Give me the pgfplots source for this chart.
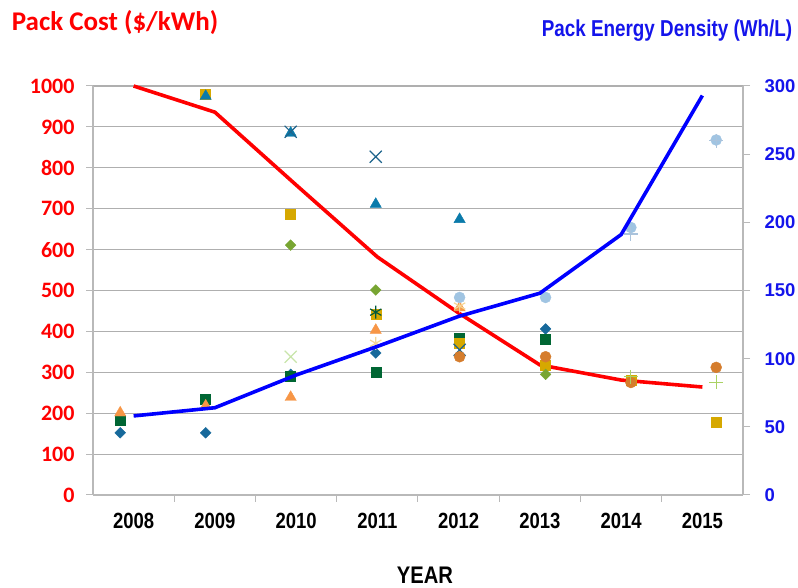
\documentclass[border=0pt]{standalone}
\usepackage{pgfplots}
\pgfplotsset{compat=1.18}
\usepackage{fontspec}
\setmainfont{Carlito}
\newfontfamily\calibri{Carlito}
\newfontfamily\lsans{Liberation Sans}
\newfontfamily\narrow{Liberation Sans}[FakeStretch=0.84]
\newfontfamily\medn{Liberation Sans}[FakeStretch=0.82]

\definecolor{cdiam}{RGB}{23,105,155}
\definecolor{cdgsq}{RGB}{0,102,51}
\definecolor{corat}{RGB}{247,150,70}
\definecolor{cgold}{RGB}{214,168,0}
\definecolor{ctealt}{RGB}{10,122,170}
\definecolor{ctealx}{RGB}{30,100,140}
\definecolor{cgdiam}{RGB}{120,165,50}
\definecolor{clgx}{RGB}{200,228,170}
\definecolor{cdgast}{RGB}{0,90,60}
\definecolor{clyast}{RGB}{245,215,150}
\definecolor{clbc}{RGB}{160,196,226}
\definecolor{corc}{RGB}{213,125,45}
\definecolor{clbp}{RGB}{170,195,220}
\definecolor{cygp}{RGB}{170,210,100}
\definecolor{axgray}{RGB}{185,185,185}
\definecolor{gridgray}{RGB}{175,175,175}
\definecolor{cred}{RGB}{255,0,0}
\definecolor{cblue}{RGB}{0,0,255}
\definecolor{tblue}{RGB}{20,20,235}

\begin{document}
\begin{tikzpicture}
\path[use as bounding box] (0,0) rectangle (798pt,588pt);

\begin{axis}[
  at={(93pt,93pt)}, anchor=south west,
  scale only axis, width=650pt, height=409pt,
  xmin=2007.5, xmax=2015.5, ymin=0, ymax=1000,
  axis x line*=bottom, axis y line*=left,
  axis line style={axgray, line width=1.3pt},
  ytick={0,100,...,1000},
  ymajorgrids, grid style={gridgray, line width=1.1pt},
  tick align=outside,
  major tick length=7pt,
  ytick style={axgray, line width=1pt},
  xtick={2008,2009,...,2015},
  xtick style={draw=none},
  extra x ticks={2008.5,2009.5,...,2014.5},
  extra x tick labels={},
  extra x tick style={xtick style={draw=axgray, line width=1pt}, major grid style={draw=none}},
  /pgf/number format/assume math mode=true,
  /pgf/number format/1000 sep={},
  yticklabel style={font=\calibri\bfseries\fontsize{22}{22}\selectfont, text=cred, xshift=-8pt},
  xticklabel style={font=\narrow\bfseries\fontsize{22}{22}\selectfont, text=black, yshift=-8pt},
  clip=false,
]
% Pack cost (left axis)
\addplot[cred, line width=3.6pt] coordinates {
  (2008,1000) (2009,936) (2010,758) (2011,582) (2012,445) (2013,318) (2014,281) (2015,264)};

% scatter series (x positions slightly offset, as in the reference)
\addplot[only marks, mark=square*, mark size=3.8pt, mark options={rotate=45, fill=cdiam, draw=cdiam}] coordinates {
  (2007.835,152) (2008.887,152) (2009.933,295) (2010.98,347) (2012.012,367) (2013.07,406)};
\addplot[only marks, mark=square*, mark size=5pt, mark options={fill=cdgsq, draw=cdgsq}] coordinates {
  (2007.835,182) (2008.887,235) (2009.933,290) (2010.98,300) (2012.012,383) (2013.07,381)};
\addplot[only marks, mark=triangle*, mark size=6.5pt, mark options={fill=corat, draw=corat}] coordinates {
  (2007.835,201) (2008.887,218) (2009.933,239) (2010.98,403) (2012.012,458)};
\addplot[only marks, mark=square*, mark size=5pt, mark options={fill=cgold, draw=cgold}] coordinates {
  (2008.887,980) (2009.933,687) (2010.98,442) (2012.012,372) (2013.07,318) (2014.12,281) (2015.17,179)};
\addplot[only marks, mark=triangle*, mark size=6.5pt, mark options={fill=ctealt, draw=ctealt}] coordinates {
  (2008.887,975) (2009.933,885) (2010.98,711) (2012.012,674)};
\addplot[only marks, mark=x, mark size=8.5pt, mark options={draw=ctealx, line width=1.2pt}] coordinates {
  (2009.933,888) (2010.98,827) (2012.012,355)};
\addplot[only marks, mark=square*, mark size=3.8pt, mark options={rotate=45, fill=cgdiam, draw=cgdiam}] coordinates {
  (2009.933,611) (2010.98,501) (2013.07,295)};
\addplot[only marks, mark=x, mark size=8.5pt, mark options={draw=clgx, line width=1.2pt}] coordinates {
  (2009.933,338)};
\addplot[only marks, mark=asterisk, mark size=6.5pt, mark options={draw=cdgast, line width=1.2pt}] coordinates {
  (2010.98,447)};
\addplot[only marks, mark=asterisk, mark size=6.5pt, mark options={draw=clyast, line width=1.2pt}] coordinates {
  (2010.98,371) (2012.012,462)};
\addplot[only marks, mark=*, mark size=5.5pt, mark options={fill=clbc, draw=clbc}] coordinates {
  (2012.012,483) (2013.07,483) (2014.12,654) (2015.17,868)};
\addplot[only marks, mark=*, mark size=5.5pt, mark options={fill=corc, draw=corc}] coordinates {
  (2012.012,338) (2013.07,338) (2014.12,275) (2015.17,312)};
\addplot[only marks, mark=+, mark size=7pt, mark options={draw=clbp, line width=1.2pt}] coordinates {
  (2014.12,638) (2015.17,866)};
\addplot[only marks, mark=+, mark size=7pt, mark options={draw=cygp, line width=1.2pt}] coordinates {
  (2014.12,289) (2015.17,276)};
\end{axis}

\begin{axis}[
  at={(93pt,93pt)}, anchor=south west,
  scale only axis, width=650pt, height=409pt,
  xmin=2007.5, xmax=2015.5, ymin=0, ymax=300,
  axis x line=none, axis y line*=right,
  axis line style={axgray, line width=1.3pt},
  ytick={0,50,...,300},
  tick align=outside, major tick length=7pt,
  ytick style={axgray, line width=1pt},
  /pgf/number format/assume math mode=true,
  yticklabel style={font=\lsans\bfseries\fontsize{18.5}{18.5}\selectfont, text=tblue, xshift=11pt},
  clip=false,
]
\addplot[cblue, line width=3.6pt] coordinates {
  (2008,58) (2009,64) (2010,88) (2011,109) (2012,131) (2013,148) (2014,191) (2015,293)};
\end{axis}

\node[anchor=base, text=cred, font=\calibri\bfseries\fontsize{27}{27}\selectfont] at (115pt,557pt) {Pack Cost (\$/kWh)};
\node[anchor=base, text=tblue, font=\medn\bfseries\fontsize{23}{23}\selectfont] at (667pt,551pt) {Pack Energy Density (Wh/L)};
\node[anchor=base, inner sep=0pt, text=black, font=\narrow\bfseries\fontsize{24}{24}\selectfont] at (425pt,4pt) {YEAR};
\end{tikzpicture}
\end{document}
